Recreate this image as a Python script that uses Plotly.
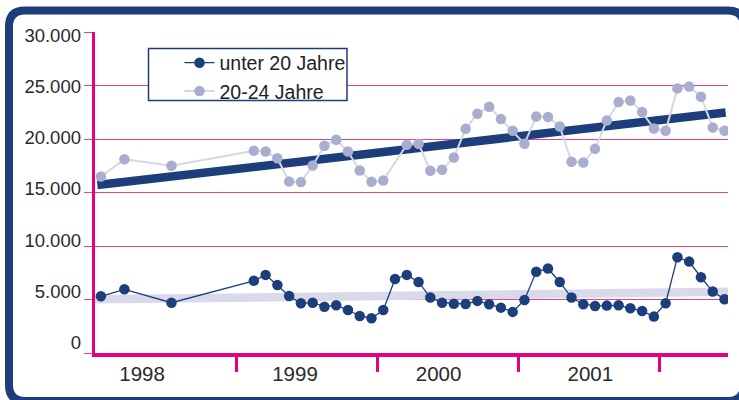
import plotly.graph_objects as go

# ---------------- data ----------------
# x = month index (0 = Jan 1998)
under20_months = [0, 2, 6, 13, 14, 15, 16, 17, 18, 19, 20, 21, 22, 23, 24, 25, 26, 27, 28, 29,
                  30, 31, 32, 33, 34, 35, 36, 37, 38, 39, 40, 41, 42, 43, 44, 45, 46, 47, 48,
                  49, 50, 51, 52, 53]
under20_values = [5300, 5950, 4700, 6750, 7300, 6350, 5330, 4650, 4700, 4330, 4460, 4020, 3460,
                  3250, 4020, 6920, 7300, 6640, 5180, 4700, 4610, 4580, 4870, 4560, 4240, 3840,
                  4960, 7600, 7890, 6640, 5180, 4560, 4400, 4430, 4460, 4180, 3930, 3400, 4650,
                  8950, 8540, 7080, 5740, 5020]

age2024_months = [0, 2, 6, 13, 14, 15, 16, 17, 18, 19, 20, 21, 22, 23, 24, 26, 27, 28, 29, 30,
                  31, 32, 33, 34, 35, 36, 37, 38, 39, 40, 41, 42, 43, 44, 45, 46, 47, 48, 49,
                  50, 51, 52, 53]
age2024_values = [16500, 18100, 17500, 18900, 18830, 18200, 16020, 15970, 17520, 19370, 19930,
                  18830, 17050, 16000, 16120, 19460, 19550, 17030, 17120, 18270, 20950, 22360,
                  23010, 21860, 20770, 19550, 22110, 22050, 21170, 17870, 17800, 19080, 21730,
                  23450, 23600, 22520, 20980, 20770, 24730, 24910, 23950, 21080, 20770]

# trend lines (end points)
trend_under20_x = [-0.5, 53.6]
trend_under20_y = [5020, 5720]
trend_2024_x = [-0.3, 53.1]
trend_2024_y = [15700, 22480]

y_ticks = [0, 5000, 10000, 15000, 20000, 25000, 30000]
year_labels = ["1998", "1999", "2000", "2001"]
year_label_pos = [3.5, 16.5, 28.7, 41.6]
year_boundaries = [11.5, 23.5, 35.5, 47.5]

# ---------------- style ----------------
NAVY = "#1c3f7c"
LIGHT_MK = "#a9aecf"
LIGHT_LN = "#d5d7e8"
BAND = "#d9dae9"
PINK = "#e5007d"
GRID = "#ec3f90"
FONT = "Liberation Sans, Arial, sans-serif"

W, H = 739, 400
ML, MR, MT, MB = 95, 11, 32, 47
PW, PH = W - ML - MR, H - MT - MB


def px(xp):
    return (xp - ML) / PW


def py(yp):
    return (H - MB - yp) / PH


fig = go.Figure()

fig.add_trace(go.Scatter(x=trend_under20_x, y=trend_under20_y, mode="lines",
                         line=dict(color=BAND, width=8.5), showlegend=False, hoverinfo="skip"))
fig.add_trace(go.Scatter(x=trend_2024_x, y=trend_2024_y, mode="lines",
                         line=dict(color=NAVY, width=8.5), showlegend=False, hoverinfo="skip"))

fig.add_trace(go.Scatter(x=under20_months, y=under20_values, mode="lines+markers",
                         name="unter 20 Jahre",
                         line=dict(color=NAVY, width=1.3),
                         marker=dict(color=NAVY, size=10.5)))
fig.add_trace(go.Scatter(x=age2024_months, y=age2024_values, mode="lines+markers",
                         name="20-24 Jahre",
                         line=dict(color=LIGHT_LN, width=2),
                         marker=dict(color=LIGHT_MK, size=10.5)))
# carrier for the label axis
fig.add_trace(go.Scatter(x=[None], y=[None], yaxis="y2", showlegend=False, hoverinfo="skip"))

# rounded frame
L, T, R, B, r = 9, 10.5, 744, 401, 16
path = (f"M {px(L + r)},{py(T)} L {px(R - r)},{py(T)} Q {px(R)},{py(T)} {px(R)},{py(T + r)} "
        f"L {px(R)},{py(B - r)} Q {px(R)},{py(B)} {px(R - r)},{py(B)} "
        f"L {px(L + r)},{py(B)} Q {px(L)},{py(B)} {px(L)},{py(B - r)} "
        f"L {px(L)},{py(T + r)} Q {px(L)},{py(T)} {px(L + r)},{py(T)} Z")
fig.add_shape(type="path", path=path, xref="paper", yref="paper",
              line=dict(color=NAVY, width=8), layer="above")

# legend box
fig.add_shape(type="rect", xref="paper", yref="paper",
              x0=px(148.5), x1=px(347), y0=py(100.5), y1=py(48.5),
              line=dict(color=NAVY, width=1.5), fillcolor="white", layer="above")

fig.update_layout(
    width=W, height=H,
    margin=dict(l=ML, r=MR, t=MT, b=MB),
    paper_bgcolor="white", plot_bgcolor="white",
    separators=",.",
    font=dict(family=FONT, color="#2a2a2a"),
    showlegend=True,
    legend=dict(x=px(179.5), y=py(43.5), xanchor="left", yanchor="top",
                bgcolor="rgba(0,0,0,0)", borderwidth=0,
                font=dict(size=19.5, family=FONT, color="#222222"),
                tracegroupgap=0),
    xaxis=dict(range=[-0.5, 53.3], tickmode="array", tickvals=year_label_pos,
               ticktext=year_labels, ticks="", showgrid=False, zeroline=False,
               showline=True, linecolor=PINK, linewidth=3.5,
               tickfont=dict(size=20.5, family=FONT, color="#2a2a2a"),
               minor=dict(tickmode="array", tickvals=year_boundaries, ticks="outside",
                          ticklen=15, tickwidth=3, tickcolor=PINK, showgrid=False)),
    yaxis=dict(range=[0, 30000], tickmode="array", tickvals=y_ticks,
               showticklabels=False, ticks="outside", ticklen=8, tickwidth=1.3,
               tickcolor=GRID, showgrid=True, gridcolor=GRID, gridwidth=1.3,
               zeroline=False, showline=True, linecolor=PINK, linewidth=3),
    yaxis2=dict(overlaying="y", side="left", range=[-1026, 30342], tickmode="array",
                tickvals=y_ticks, tickformat=",.0f", showgrid=False, zeroline=False,
                showline=False, ticks="", ticklabelstandoff=13,
                tickfont=dict(size=18.5, family=FONT, color="#2a2a2a")),
)

fig.write_html("out.html")
